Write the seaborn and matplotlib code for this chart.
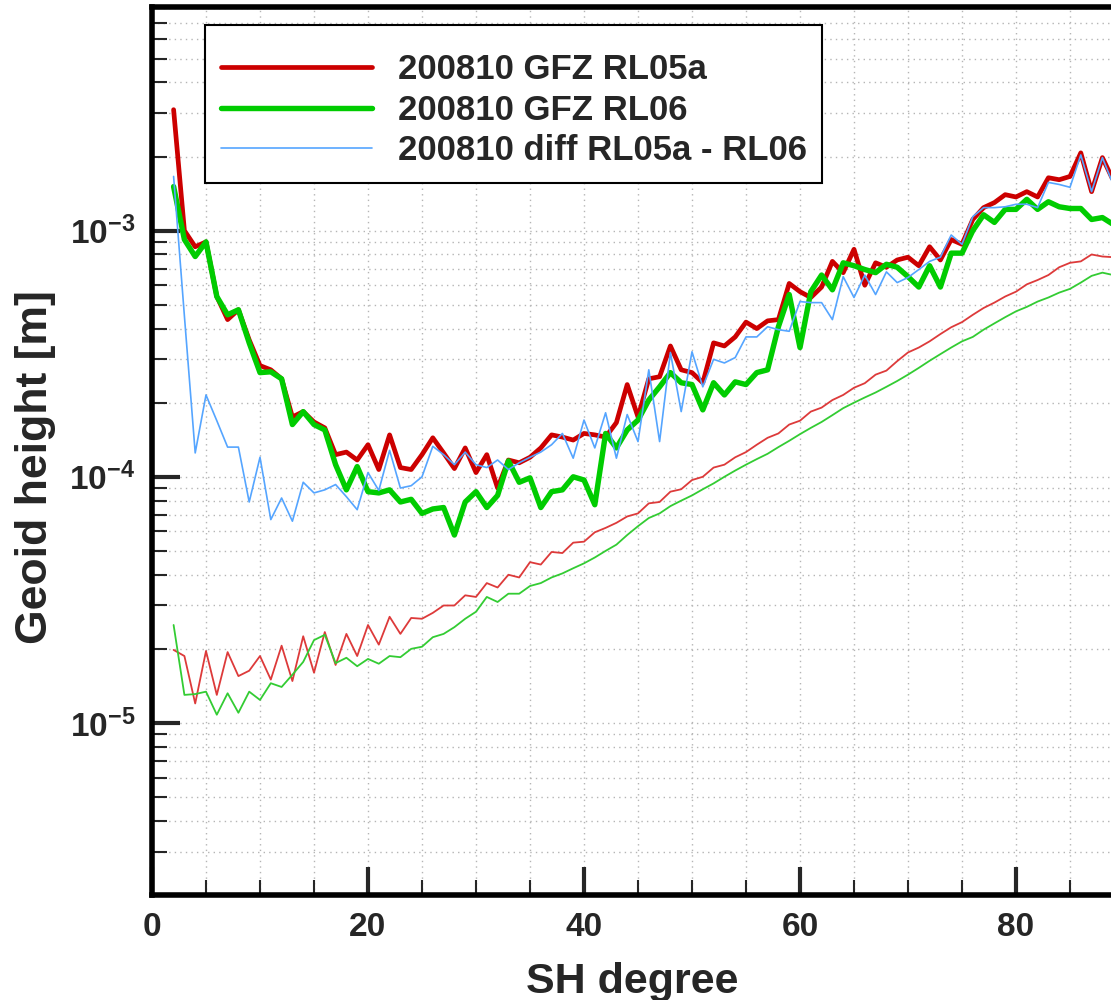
import numpy as np
import pandas as pd
import matplotlib
matplotlib.use("Agg")
import matplotlib.pyplot as plt
import seaborn as sns
from matplotlib.ticker import LogLocator, MultipleLocator, FuncFormatter, NullFormatter

# ---------------- data (SH degree 2..90) ----------------
degrees = list(range(2, 91))

rl05a = [3.1e-3, 1.0e-3, 8.6e-4, 9.0e-4, 5.4e-4, 4.35e-4, 4.77e-4, 3.6e-4, 2.83e-4, 2.72e-4,
         2.5e-4, 1.75e-4, 1.84e-4, 1.67e-4, 1.58e-4, 1.23e-4, 1.26e-4, 1.17e-4, 1.35e-4, 1.07e-4,
         1.48e-4, 1.09e-4, 1.07e-4, 1.23e-4, 1.44e-4, 1.25e-4, 1.08e-4, 1.31e-4, 1.04e-4, 1.23e-4,
         9.0e-5, 1.17e-4, 1.14e-4, 1.2e-4, 1.31e-4, 1.48e-4, 1.45e-4, 1.41e-4, 1.5e-4, 1.48e-4,
         1.45e-4, 1.66e-4, 2.37e-4, 1.75e-4, 2.5e-4, 2.55e-4, 3.4e-4, 2.72e-4, 2.65e-4, 2.41e-4,
         3.5e-4, 3.4e-4, 3.7e-4, 4.25e-4, 4.0e-4, 4.3e-4, 4.35e-4, 6.1e-4, 5.65e-4, 5.35e-4,
         5.9e-4, 7.5e-4, 6.75e-4, 8.4e-4, 6.0e-4, 7.4e-4, 7.1e-4, 7.6e-4, 7.8e-4, 7.2e-4,
         8.6e-4, 7.6e-4, 9.2e-4, 8.8e-4, 1.11e-3, 1.24e-3, 1.3e-3, 1.4e-3, 1.37e-3, 1.44e-3,
         1.37e-3, 1.64e-3, 1.61e-3, 1.66e-3, 2.07e-3, 1.44e-3, 1.98e-3, 1.6e-3, 1.7e-3]

rl06 = [1.51e-3, 9.2e-4, 7.85e-4, 9.0e-4, 5.4e-4, 4.55e-4, 4.77e-4, 3.5e-4, 2.65e-4, 2.67e-4,
        2.5e-4, 1.63e-4, 1.84e-4, 1.63e-4, 1.55e-4, 1.12e-4, 8.85e-5, 1.1e-4, 8.7e-5, 8.6e-5,
        8.85e-5, 7.9e-5, 8.1e-5, 7.1e-5, 7.4e-5, 7.5e-5, 5.8e-5, 7.9e-5, 8.7e-5, 7.5e-5,
        8.4e-5, 1.16e-4, 9.5e-5, 9.9e-5, 7.5e-5, 8.7e-5, 8.85e-5, 1.0e-4, 9.7e-5, 7.7e-5,
        1.5e-4, 1.31e-4, 1.55e-4, 1.7e-4, 2.05e-4, 2.32e-4, 2.65e-4, 2.41e-4, 2.37e-4, 1.87e-4,
        2.41e-4, 2.15e-4, 2.43e-4, 2.37e-4, 2.65e-4, 2.72e-4, 4.07e-4, 5.5e-4, 3.35e-4, 5.65e-4,
        6.6e-4, 5.75e-4, 7.4e-4, 7.2e-4, 6.95e-4, 6.75e-4, 7.3e-4, 7.1e-4, 6.5e-4, 5.9e-4,
        7.2e-4, 5.9e-4, 8.1e-4, 8.1e-4, 1.0e-3, 1.16e-3, 1.08e-3, 1.22e-3, 1.22e-3, 1.34e-3,
        1.22e-3, 1.31e-3, 1.25e-3, 1.23e-3, 1.23e-3, 1.11e-3, 1.13e-3, 1.06e-3, 1.05e-3]

diff = [1.66e-3, 4.5e-4, 1.25e-4, 2.15e-4, 1.69e-4, 1.32e-4, 1.32e-4, 7.9e-5, 1.2e-4, 6.7e-5,
        8.2e-5, 6.6e-5, 9.5e-5, 8.6e-5, 8.85e-5, 9.3e-5, 8.3e-5, 7.35e-5, 1.04e-4, 8.8e-5,
        1.28e-4, 9.0e-5, 9.2e-5, 1.0e-4, 1.33e-4, 1.23e-4, 1.12e-4, 1.26e-4, 1.12e-4, 1.09e-4,
        1.17e-4, 1.07e-4, 1.14e-4, 1.2e-4, 1.26e-4, 1.35e-4, 1.5e-4, 1.19e-4, 1.7e-4, 1.31e-4,
        1.82e-4, 1.19e-4, 1.79e-4, 1.39e-4, 2.72e-4, 1.39e-4, 3.2e-4, 1.84e-4, 3.22e-4, 2.32e-4,
        3.0e-4, 2.9e-4, 3.05e-4, 3.7e-4, 3.7e-4, 4.07e-4, 3.96e-4, 3.9e-4, 5.15e-4, 5.1e-4,
        5.1e-4, 4.35e-4, 6.5e-4, 5.35e-4, 6.6e-4, 5.5e-4, 6.8e-4, 6.15e-4, 6.45e-4, 6.95e-4,
        7.5e-4, 7.8e-4, 9.6e-4, 8.8e-4, 1.14e-3, 1.24e-3, 1.24e-3, 1.25e-3, 1.28e-3, 1.28e-3,
        1.24e-3, 1.57e-3, 1.54e-3, 1.5e-3, 2.03e-3, 1.44e-3, 1.98e-3, 1.54e-3, 1.5e-3]

rl05a_err = [1.98e-5, 1.87e-5, 1.2e-5, 1.96e-5, 1.3e-5, 1.94e-5, 1.55e-5, 1.63e-5, 1.87e-5, 1.5e-5,
             2.06e-5, 1.48e-5, 2.25e-5, 1.6e-5, 2.34e-5, 1.72e-5, 2.3e-5, 1.87e-5, 2.5e-5, 2.08e-5,
             2.7e-5, 2.3e-5, 2.67e-5, 2.65e-5, 2.8e-5, 3.0e-5, 3.0e-5, 3.3e-5, 3.25e-5, 3.7e-5,
             3.55e-5, 4.0e-5, 3.9e-5, 4.5e-5, 4.4e-5, 4.95e-5, 4.9e-5, 5.4e-5, 5.45e-5, 5.95e-5,
             6.2e-5, 6.5e-5, 6.9e-5, 7.1e-5, 7.8e-5, 7.9e-5, 8.7e-5, 8.9e-5, 9.7e-5, 1.0e-4,
             1.09e-4, 1.12e-4, 1.2e-4, 1.26e-4, 1.35e-4, 1.44e-4, 1.5e-4, 1.63e-4, 1.69e-4, 1.84e-4,
             1.91e-4, 2.05e-4, 2.15e-4, 2.3e-4, 2.4e-4, 2.6e-4, 2.7e-4, 2.95e-4, 3.2e-4, 3.35e-4,
             3.55e-4, 3.8e-4, 4.05e-4, 4.25e-4, 4.55e-4, 4.85e-4, 5.1e-4, 5.4e-4, 5.65e-4, 6.05e-4,
             6.3e-4, 6.6e-4, 7.1e-4, 7.4e-4, 7.5e-4, 8.0e-4, 7.85e-4, 7.8e-4, 8.0e-4]

rl06_err = [2.5e-5, 1.3e-5, 1.31e-5, 1.34e-5, 1.08e-5, 1.32e-5, 1.1e-5, 1.34e-5, 1.24e-5, 1.45e-5,
            1.4e-5, 1.57e-5, 1.77e-5, 2.17e-5, 2.28e-5, 1.75e-5, 1.84e-5, 1.7e-5, 1.82e-5, 1.74e-5,
            1.87e-5, 1.85e-5, 2.0e-5, 2.04e-5, 2.23e-5, 2.3e-5, 2.45e-5, 2.65e-5, 2.83e-5, 3.25e-5,
            3.1e-5, 3.35e-5, 3.35e-5, 3.6e-5, 3.7e-5, 3.9e-5, 4.05e-5, 4.25e-5, 4.45e-5, 4.7e-5,
            5.0e-5, 5.3e-5, 5.8e-5, 6.3e-5, 6.8e-5, 7.1e-5, 7.6e-5, 8.0e-5, 8.4e-5, 8.9e-5,
            9.4e-5, 1.0e-4, 1.06e-4, 1.12e-4, 1.18e-4, 1.24e-4, 1.32e-4, 1.4e-4, 1.49e-4, 1.58e-4,
            1.67e-4, 1.78e-4, 1.9e-4, 2.0e-4, 2.1e-4, 2.2e-4, 2.32e-4, 2.45e-4, 2.6e-4, 2.77e-4,
            2.96e-4, 3.15e-4, 3.35e-4, 3.55e-4, 3.7e-4, 3.96e-4, 4.2e-4, 4.45e-4, 4.7e-4, 4.9e-4,
            5.15e-4, 5.35e-4, 5.6e-4, 5.8e-4, 6.15e-4, 6.55e-4, 6.75e-4, 6.6e-4, 6.7e-4]

legend_labels = ["200810 GFZ RL05a", "200810 GFZ RL06", "200810 diff RL05a - RL06"]
x_label = "SH degree"
y_label = "Geoid height [m]"

# ---------------- style ----------------
sns.set_style("ticks")
plt.rcParams['font.family'] = ['Liberation Sans', 'DejaVu Sans']
plt.rcParams['font.weight'] = 'bold'
plt.rcParams['mathtext.fontset'] = 'custom'
plt.rcParams['mathtext.rm'] = 'Liberation Sans:bold'
plt.rcParams['mathtext.bf'] = 'Liberation Sans:bold'
plt.rcParams['mathtext.default'] = 'bf'

fig = plt.figure(figsize=(11.11, 10), dpi=100)
ax = fig.add_axes([152 / 1111, 0.105, 972 / 1111, 0.888])
ax.set_yscale('log')

ax.grid(True, which='both', linestyle=(0, (1, 3)), color='#b5b5b5', linewidth=1.0, zorder=0)
ax.set_axisbelow(True)

series = [
    (rl05a, '#cc0000', 3.4, legend_labels[0]),
    (rl06, '#00cc00', 3.9, legend_labels[1]),
    (diff, '#55a5ff', 1.2, legend_labels[2]),
    (rl05a_err, '#dd3a3a', 1.3, None),
    (rl06_err, '#33cc33', 1.3, None),
]
handles = []
for vals, col, lw, lab in series:
    df = pd.DataFrame({"degree": degrees, "value": vals})
    sns.lineplot(data=df, x="degree", y="value", ax=ax, color=col, linewidth=lw,
                 legend=False, estimator=None)
    if lab is not None:
        handles.append(ax.lines[-1])

ax.set_xlim(0, 90)
ax.set_ylim(2.0e-6, 8.1e-3)

ax.xaxis.set_major_locator(MultipleLocator(20))
ax.xaxis.set_minor_locator(MultipleLocator(5))
ax.yaxis.set_major_locator(LogLocator(base=10, subs=(1.0,)))
ax.yaxis.set_minor_locator(LogLocator(base=10, subs=np.arange(2, 10), numticks=50))
ax.yaxis.set_minor_formatter(NullFormatter())
ax.yaxis.set_major_formatter(FuncFormatter(lambda v, p: r'$\mathbf{10^{%d}}$' % int(round(np.log10(v)))))

ax.tick_params(which='major', direction='in', length=20, width=3, labelsize=24, pad=12,
               top=False, right=False)
ax.tick_params(which='minor', direction='in', length=11, width=1.5, top=False, right=False)
for lbl in ax.get_xticklabels() + ax.get_yticklabels():
    lbl.set_fontweight('bold')

for s in ['left', 'bottom', 'top']:
    ax.spines[s].set_linewidth(4)
    ax.spines[s].set_color('black')
ax.spines['right'].set_visible(False)

ax.set_xlabel(x_label, fontsize=31, fontweight='bold')
ax.set_ylabel(y_label, fontsize=32, fontweight='bold')
ax.xaxis.set_label_coords(0.494, -0.075)
ax.yaxis.set_label_coords(-0.099, 0.482)

leg = ax.legend(handles, legend_labels, loc='upper left', bbox_to_anchor=(0.0545, 0.98),
                frameon=True, fancybox=False, edgecolor='black', framealpha=1,
                prop={'weight': 'bold', 'size': 25}, handlelength=4.35, handletextpad=0.75,
                labelspacing=0.22, borderpad=0.45, borderaxespad=0,
                title=' ', title_fontsize=4)
leg.get_frame().set_linewidth(1.5)

fig.savefig("out.png", dpi=100)
